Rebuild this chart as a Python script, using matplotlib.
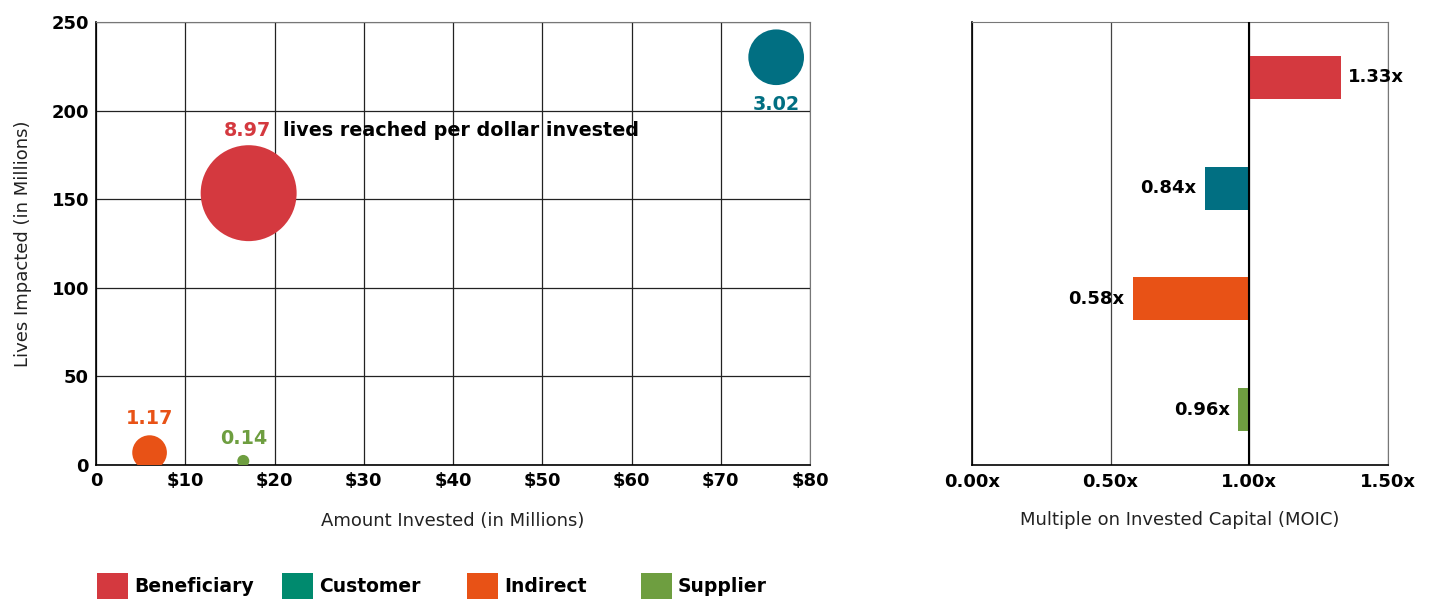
import matplotlib
matplotlib.use("Agg")
import matplotlib.pyplot as plt
from matplotlib.patches import Rectangle

plt.rcParams['font.family'] = ['DejaVu Sans']

categories = ["Beneficiary", "Customer", "Indirect", "Supplier"]
invested = [17.1, 76.2, 6.0, 16.5]          # $ millions
lives = [153.4, 230.1, 7.0, 2.3]            # millions
lives_per_dollar = [8.97, 3.02, 1.17, 0.14]
moic = [1.33, 0.84, 0.58, 0.96]
moic_labels = ["1.33x", "0.84x", "0.58x", "0.96x"]

x_ticks = [0, 10, 20, 30, 40, 50, 60, 70, 80]
x_ticklabels = ["0", "$10", "$20", "$30", "$40", "$50", "$60", "$70", "$80"]
y_ticks = [0, 50, 100, 150, 200, 250]
m_ticks = [0.0, 0.5, 1.0, 1.5]
m_ticklabels = ["0.00x", "0.50x", "1.00x", "1.50x"]

bubble_colors = ["#D4393F", "#016F82", "#E85216", "#6E9E40"]
legend_colors = ["#D4393F", "#008A6E", "#E85216", "#6E9E40"]

FS = 13
AFS = 13.8

fig = plt.figure(figsize=(14.31, 5.99), dpi=100)

# ---------- Left: bubble chart ----------
ax = fig.add_axes([0.0671, 0.2237, 0.4990, 0.7396])
sizes = [532 * v for v in lives_per_dollar]
ax.scatter(invested, lives, s=sizes, c=bubble_colors, zorder=3, linewidths=0)
ax.set_xlim(0, 80)
ax.set_ylim(0, 250)
ax.set_xticks(x_ticks)
ax.set_xticklabels(x_ticklabels)
ax.set_yticks(y_ticks)
ax.grid(True, color="#222222", linewidth=0.9, zorder=0)
ax.set_axisbelow(True)
for s in ["top", "right"]:
    ax.spines[s].set_color("#777777")
for s in ["left", "bottom"]:
    ax.spines[s].set_color("black")
    ax.spines[s].set_linewidth(1.2)
ax.tick_params(length=0, labelsize=FS, pad=5)
for lab in ax.get_xticklabels() + ax.get_yticklabels():
    lab.set_fontweight("bold")
ax.set_xlabel("Amount Invested (in Millions)", fontsize=FS, labelpad=16, color="#222222")
ax.set_ylabel("Lives Impacted (in Millions)", fontsize=FS, labelpad=14, color="#222222")

# bubble annotations
offsets = [(16, 38, 'right', 'bottom'), (0, -27, 'center', 'top'), (0, 18, 'center', 'bottom'), (0, 9, 'center', 'bottom')]
for i in range(len(categories)):
    dx, dy, ha, va = offsets[i]
    ax.annotate(f"{lives_per_dollar[i]:.2f}", (invested[i], lives[i]),
                xytext=(dx, dy), textcoords="offset points",
                ha=ha, va=va, color=bubble_colors[i], fontsize=AFS, fontweight="bold", zorder=4)
ax.annotate("lives reached per dollar invested", (invested[0], lives[0]),
            xytext=(25, 38), textcoords="offset points", ha="left", va="bottom",
            color="black", fontsize=AFS, fontweight="bold", zorder=4)

# ---------- Right: MOIC bars ----------
ax2 = fig.add_axes([0.6792, 0.2237, 0.2907, 0.7396])
ypos = list(range(len(categories)))
ax2.barh(ypos, [m - 1.0 for m in moic], left=1.0, height=0.39,
         color=bubble_colors, zorder=3)
ax2.set_ylim(len(categories) - 0.5, -0.5)
ax2.set_xlim(0, 1.5)
ax2.set_xticks(m_ticks)
ax2.set_xticklabels(m_ticklabels)
ax2.set_yticks([])
ax2.grid(True, axis="x", color="#444444", linewidth=0.9, zorder=0)
ax2.axvline(1.0, color="black", linewidth=1.5, zorder=4)
for s in ["top", "right"]:
    ax2.spines[s].set_color("#777777")
for s in ["left", "bottom"]:
    ax2.spines[s].set_color("black")
    ax2.spines[s].set_linewidth(1.2)
ax2.tick_params(length=0, labelsize=FS, pad=6)
for lab in ax2.get_xticklabels():
    lab.set_fontweight("bold")
ax2.set_xlabel("Multiple on Invested Capital (MOIC)", fontsize=FS, labelpad=14, color="#222222")
for i, m in enumerate(moic):
    if m >= 1:
        ax2.annotate(moic_labels[i], (m, i), xytext=(5, 0), textcoords="offset points",
                     ha="left", va="center", fontsize=FS, fontweight="bold", zorder=5)
    else:
        ax2.annotate(moic_labels[i], (m, i), xytext=(-6, 0), textcoords="offset points",
                     ha="right", va="center", fontsize=FS, fontweight="bold", zorder=5)

# ---------- Legend ----------
leg_x = [97, 282, 467, 641]
for i, cat in enumerate(categories):
    x0 = leg_x[i] / 1431
    fig.add_artist(Rectangle((x0, 0.0), 31 / 1431, 26 / 599, transform=fig.transFigure,
                             color=legend_colors[i], linewidth=0))
    fig.text(x0 + 37 / 1431, 12 / 599, cat, fontsize=FS + 0.5, fontweight="bold",
             ha="left", va="center")

fig.savefig("out.png", dpi=100)
